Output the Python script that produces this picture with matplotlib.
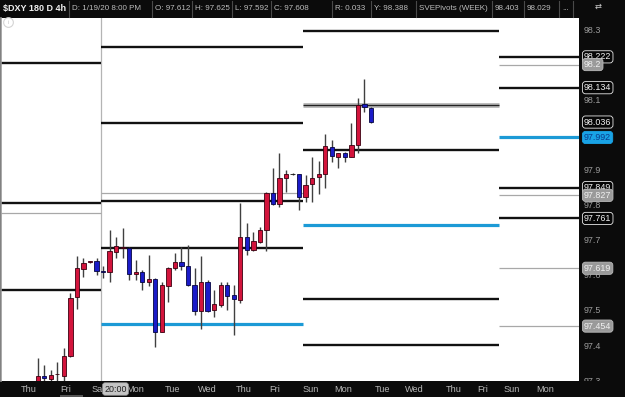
import matplotlib
matplotlib.use("Agg")
import matplotlib.pyplot as plt
from matplotlib.patches import Rectangle
from matplotlib.transforms import blended_transform_factory
import numpy as np

plt.rcParams['font.family'] = ['Liberation Sans', 'DejaVu Sans']

# ---------------- data ----------------
opens = [97.290, 97.312, 97.304, 97.317, 97.312, 97.369, 97.538, 97.617, 97.637, 97.640,
         97.612, 97.609, 97.666, 97.677, 97.678, 97.602, 97.609, 97.579, 97.588, 97.438,
         97.569, 97.619, 97.636, 97.625, 97.571, 97.498, 97.579, 97.500, 97.515, 97.571,
         97.542, 97.528, 97.707, 97.671, 97.695, 97.727, 97.835, 97.802, 97.876, 97.887,
         97.888, 97.822, 97.859, 97.878, 97.888, 97.966, 97.937, 97.947, 97.937, 97.971,
         98.087, 98.075]
highs = [97.364, 97.343, 97.329, 97.352, 97.391, 97.548, 97.654, 97.647, 97.640, 97.649,
         97.625, 97.728, 97.707, 97.733, 97.681, 97.643, 97.614, 97.657, 97.590, 97.581,
         97.623, 97.662, 97.680, 97.685, 97.619, 97.654, 97.586, 97.557, 97.581, 97.581,
         97.571, 97.804, 97.747, 97.723, 97.738, 97.837, 97.906, 97.948, 97.899, 97.890,
         97.889, 97.885, 97.936, 97.926, 98.001, 97.985, 97.948, 97.951, 98.032, 98.105,
         98.158, 98.078]
lows = [97.280, 97.296, 97.294, 97.297, 97.296, 97.366, 97.502, 97.595, 97.634, 97.600,
        97.592, 97.581, 97.647, 97.647, 97.586, 97.586, 97.557, 97.568, 97.394, 97.436,
        97.524, 97.614, 97.614, 97.569, 97.486, 97.445, 97.495, 97.481, 97.509, 97.500,
        97.429, 97.521, 97.657, 97.669, 97.690, 97.669, 97.800, 97.794, 97.837, 97.885,
        97.785, 97.808, 97.808, 97.831, 97.847, 97.923, 97.906, 97.923, 97.935, 97.947,
        98.066, 98.032]
closes = [97.312, 97.306, 97.315, 97.318, 97.369, 97.535, 97.619, 97.635, 97.638, 97.612,
          97.608, 97.669, 97.682, 97.678, 97.602, 97.609, 97.579, 97.588, 97.436, 97.571,
          97.619, 97.636, 97.625, 97.571, 97.498, 97.579, 97.498, 97.517, 97.571, 97.540,
          97.530, 97.709, 97.671, 97.697, 97.728, 97.835, 97.802, 97.876, 97.888, 97.887,
          97.822, 97.856, 97.877, 97.888, 97.968, 97.940, 97.947, 97.937, 97.971, 98.085,
          98.079, 98.037]

# pivot weeks (time boundaries in bar units) and levels
week_edges = [-5.6, 9.7, 40.55, 70.6, 82.83]
week1_levels = [98.204, 97.805, 97.777, 97.558]
week1_kinds = ['k', 'k', 'g', 'k']
week2_levels = [98.249, 98.032, 97.835, 97.812, 97.678, 97.459]
week2_kinds = ['k', 'k', 'g', 'k', 'k', 'b']
week3_levels = [98.296, 98.086, 97.955, 97.742, 97.532, 97.399]
week3_kinds = ['k', 'band', 'k', 'b', 'k', 'k']
week4_levels = [98.222, 98.200, 98.134, 97.992, 97.849, 97.827, 97.761, 97.619, 97.454]
week4_kinds = ['k', 'g', 'k', 'b', 'k', 'g', 'k', 'g', 'g']

label_values = [98.222, 98.2, 98.134, 98.036, 97.992, 97.849, 97.827, 97.761, 97.619, 97.454]
label_texts = ['98.222', '98.2', '98.134', '98.036', '97.992', '97.849', '97.827', '97.761', '97.619', '97.454']
label_kinds = ['k', 'g', 'k', 'k', 'b', 'k', 'g', 'k', 'g', 'g']

ytick_values = [98.3, 98.1, 97.9, 97.8, 97.7, 97.6, 97.5, 97.4, 97.3]
day_positions = [-1.33, 4.33, 9.05, 14.9, 20.7, 25.9, 31.6, 36.3, 41.8, 46.7, 52.8, 57.7, 63.7, 68.1, 72.6, 77.6]
day_labels = ['Thu', 'Fri', 'Sa', 'Mon', 'Tue', 'Wed', 'Thu', 'Fri', 'Sun', 'Mon', 'Tue', 'Wed', 'Thu', 'Fri', 'Sun', 'Mon']

header_texts = ['D: 1/19/20 8:00 PM', 'O: 97.612', 'H: 97.625', 'L: 97.592', 'C: 97.608',
                'R: 0.033', 'Y: 98.388', 'SVEPivots (WEEK)', '98.403', '98.029', '...']

# ---------------- figure ----------------
W, H = 625, 397
BG = '#0b0b0b'
fig = plt.figure(figsize=(W / 100, H / 100), dpi=100, facecolor=BG)
ax = fig.add_axes([1 / W, 16 / H, 578 / W, 363 / H])
ax.set_facecolor('white')
ax.set_xlim(-5.616, 82.83)
ax.set_ylim(97.2974, 98.3328)

def fx(x):
    return x / W

def fy(y):
    return 1 - y / H

# pivot lines
line_styles = {
    'k': dict(color='#111111', lw=1.7),
    'g': dict(color='#a8a8a8', lw=0.9),
    'b': dict(color='#1c9ad6', lw=2.3),
}
weeks = [(week1_levels, week1_kinds), (week2_levels, week2_kinds),
         (week3_levels, week3_kinds), (week4_levels, week4_kinds)]
for wi, (levels, kinds) in enumerate(weeks):
    x0, x1 = week_edges[wi], week_edges[wi + 1]
    for lv, kd in zip(levels, kinds):
        if kd == 'band':
            ax.hlines(lv, x0, x1, color='#bdbdbd', lw=3.6, zorder=2)
            ax.hlines(lv, x0, x1, color='#222222', lw=1.0, zorder=2.1)
        else:
            ax.hlines(lv, x0, x1, zorder=2, **line_styles[kd])

# week separator
ax.axvline(week_edges[1], color='#b4b4b4', lw=0.9, zorder=1)

# candles
o = np.array(opens); h = np.array(highs); l = np.array(lows); c = np.array(closes)
idx = np.arange(len(o))
diff = c - o
face = np.where(diff > 0.0005, '#d3143c', np.where(diff < -0.0005, '#1b1bc8', '#111111'))
edge = np.where(diff > 0.0005, '#3a0010', np.where(diff < -0.0005, '#050540', '#111111'))
ax.vlines(idx, l, h, color='#404040', lw=1.0, zorder=3)
bottoms = np.minimum(o, c)
heights = np.maximum(np.abs(diff), 0.0016)
ax.bar(idx, heights, bottom=bottoms, width=0.66, color=face, edgecolor=edge,
       linewidth=0.6, zorder=4)

# axes styling
for s in ['top', 'right', 'bottom']:
    ax.spines[s].set_visible(False)
ax.spines['left'].set_color('#9a9a9a')
ax.spines['left'].set_linewidth(1.2)
ax.yaxis.tick_right()
ax.set_yticks(ytick_values)
ax.set_yticklabels([f'{v:.1f}' for v in ytick_values])
ax.tick_params(axis='y', length=0, pad=3, labelsize=6.4, labelcolor='#9c9c9c')
ax.set_xticks(day_positions)
ax.set_xticklabels(day_labels)
ax.tick_params(axis='x', length=0, pad=3, labelsize=6.6, labelcolor='#b8b8b8')

# right-side value labels
trans = blended_transform_factory(fig.transFigure, ax.transData)
box_styles = {
    'k': dict(fc='#050505', ec='#e8e8e8', tc='#f2f2f2'),
    'g': dict(fc='#9a9a9a', ec='#bbbbbb', tc='#f0f0f0'),
    'b': dict(fc='#19a3e6', ec='#19a3e6', tc='#0a3c8c'),
}
for v, t, kd in zip(label_values, label_texts, label_kinds):
    st = box_styles[kd]
    ax.text(fx(584), v, t, transform=trans, ha='left', va='center', fontsize=6.4,
            color=st['tc'], clip_on=False, zorder=8,
            bbox=dict(boxstyle='round,pad=0.18,rounding_size=0.35', fc=st['fc'],
                      ec=st['ec'], lw=0.6))

# cover bottom of right axis strip
fig.add_artist(Rectangle((fx(579), 0), fx(46), 16 / H, transform=fig.transFigure,
                         fc=BG, ec='none', zorder=5))
# small highlight under first Fri
fig.add_artist(Rectangle((fx(60), 0), fx(23), 2 / H, transform=fig.transFigure,
                         fc='#555555', ec='none', zorder=5))
# 20:00 box
fig.text(fx(115.5), fy(389), '20:00', ha='center', va='center', fontsize=6.4,
         color='#202020', zorder=10,
         bbox=dict(boxstyle='round,pad=0.2,rounding_size=0.3', fc='#c4c4c4', ec='#8a8a8a', lw=0.5))

# header
fig.text(fx(3), fy(9), '$DXY 180 D 4h', ha='left', va='center', fontsize=6.5,
         fontweight='bold', color='#f0f0f0')
header_x = [72, 155, 195, 235, 274, 335, 374, 419, 495, 527, 562]
for x, t in zip(header_x, header_texts):
    fig.text(fx(x), fy(9), t, ha='left', va='center', fontsize=5.8, color='#bdbdbd')
for sx in [69, 152, 192, 232, 271, 332, 371, 416, 492, 524, 559, 573]:
    fig.add_artist(plt.Line2D([fx(sx), fx(sx)], [fy(1), fy(17)], transform=fig.transFigure,
                              color='#4a4a4a', lw=0.8))
fig.text(fx(598), fy(7), '⇄', ha='center', va='center', fontsize=6, color='#cccccc')

# info icon
ax.plot([fx(8)], [fy(22)], marker='o', ms=7, mfc='none', mec='#d4d4d4', mew=0.8,
        transform=fig.transFigure, clip_on=False, zorder=6)
fig.text(fx(8), fy(22), 'i', ha='center', va='center', fontsize=4.5, color='#c8c8c8')

fig.savefig('out.png', dpi=100, facecolor=BG)
